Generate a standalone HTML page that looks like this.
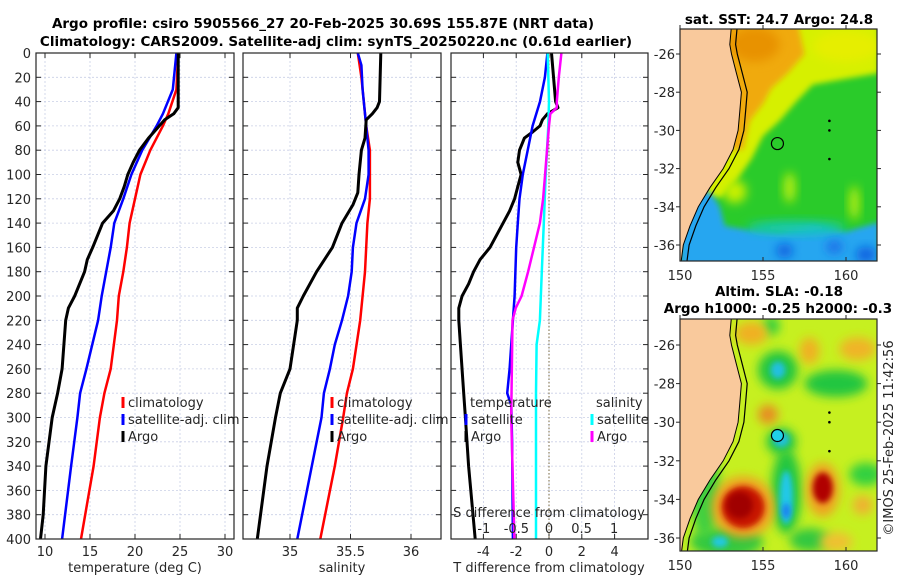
<!DOCTYPE html>
<html><head><meta charset="utf-8">
<style>
html,body{margin:0;padding:0;background:#fff;}
svg{display:block;font-family:"DejaVu Sans","Liberation Sans",sans-serif;}
.tk{font-size:13px;fill:#262626;}
.tt{font-size:13.5px;font-weight:bold;fill:#000;}
</style></head>
<body>
<svg id="fig" width="900" height="580" viewBox="0 0 900 580" xmlns="http://www.w3.org/2000/svg">
<defs>
<filter id="bl" x="-50%" y="-50%" width="200%" height="200%"><feGaussianBlur stdDeviation="5"/></filter>
<filter id="bl2" x="-50%" y="-50%" width="200%" height="200%"><feGaussianBlur stdDeviation="3"/></filter>
<clipPath id="c1"><rect x="680" y="29" width="197" height="232"/></clipPath>
<clipPath id="c2"><rect x="680" y="319" width="197" height="232"/></clipPath>
</defs>
<text class="tt" x="323" y="28" text-anchor="middle">Argo profile: csiro 5905566_27 20-Feb-2025 30.69S 155.87E (NRT data)</text>
<text class="tt" x="336" y="46" text-anchor="middle">Climatology: CARS2009. Satellite-adj clim: synTS_20250220.nc (0.61d earlier)</text>
<text class="tt" x="779" y="24" text-anchor="middle">sat. SST: 24.7 Argo: 24.8</text>
<text class="tt" x="779" y="296" text-anchor="middle">Altim. SLA: -0.18</text>
<text class="tt" x="778" y="313" text-anchor="middle">Argo h1000: -0.25 h2000: -0.3</text>
<text class="tk" transform="translate(893,438) rotate(-90)" text-anchor="middle">©IMOS 25-Feb-2025 11:42:56</text>
<g id="plots"></g>
</svg>
<script>
// ---- data ----
const depthTicks = [0,20,40,60,80,100,120,140,160,180,200,220,240,260,280,300,320,340,360,380,400];
const tempTicks = [10,15,20,25,30];
const salTicks = [35,35.5,36];
const tdiffTicks = [-4,-2,0,2,4];
const sdiffTicks = [-1,-0.5,0,0.5,1];

const tDepthArgo = [0,20,45,50,55,60,70,80,90,100,110,120,130,140,160,170,180,200,210,220,260,280,300,340,380,400];
const tArgo = [24.8,24.8,24.8,24.3,23.3,22.7,21.5,20.5,19.8,19.2,18.8,18.3,17.6,16.4,15.3,14.7,14.4,13.3,12.6,12.3,11.9,11.4,10.8,10.1,9.8,9.5];
const tDepthSat = [0,30,50,60,70,80,100,120,140,160,180,200,220,260,280,300,340,400];
const tSat = [24.6,24.2,23.1,22.4,21.6,20.8,19.6,18.7,17.7,17.3,16.8,16.3,15.9,14.6,13.9,13.6,12.9,11.9];
const tDepthClim = [0,30,50,60,80,100,120,140,160,180,200,220,260,280,300,340,400];
const tClim = [24.8,24.6,23.7,23.1,21.7,20.6,20.0,19.4,19.1,18.7,18.2,18.0,17.3,16.6,16.1,15.4,14.0];

const sDepthArgo = [0,40,45,50,55,70,80,100,115,125,140,160,180,200,210,220,260,280,300,340,400];
const sArgo = [35.75,35.74,35.72,35.68,35.63,35.62,35.59,35.57,35.56,35.52,35.43,35.35,35.22,35.11,35.06,35.06,35.0,34.92,34.88,34.81,34.73];
const sDepthSat = [0,10,30,60,80,100,120,140,160,180,200,220,240,260,280,300,340,400];
const sSat = [35.56,35.59,35.6,35.63,35.65,35.65,35.62,35.55,35.52,35.51,35.48,35.43,35.37,35.33,35.28,35.26,35.18,35.06];
const sDepthClim = [0,20,40,60,80,100,120,140,180,220,260,280,300,340,400];
const sClim = [35.56,35.59,35.61,35.63,35.66,35.66,35.66,35.64,35.62,35.58,35.52,35.47,35.44,35.37,35.25];

const dtDepthArgo = [0,40,45,50,55,60,65,70,80,90,100,110,120,130,140,160,170,180,190,200,210,220,240,280,300,340,400];
const dtArgo = [0.15,0.4,0.55,-0.1,-0.4,-0.55,-1.0,-1.5,-1.8,-1.9,-1.7,-1.9,-2.1,-2.4,-2.8,-3.6,-4.2,-4.6,-4.9,-5.3,-5.5,-5.5,-5.4,-5.2,-5.1,-4.9,-4.5];
const dtDepthSat = [0,20,40,60,80,100,120,140,160,200,220,260,280,290,320,400];
const dtSat = [-0.1,-0.25,-0.55,-1.0,-1.3,-1.6,-1.8,-1.9,-2.0,-2.1,-2.2,-2.4,-2.55,-2.3,-2.25,-2.2];
const dsDepthSat = [0,40,60,100,140,180,220,240,280,400];
const dsSat = [-0.02,0,-0.01,-0.05,-0.08,-0.11,-0.14,-0.19,-0.2,-0.2];
const dsDepthArgo = [0,20,40,45,50,60,80,100,120,140,160,180,200,210,220,300,400];
const dsArgo = [0.19,0.15,0.12,0.12,0.02,0,-0.03,-0.06,-0.09,-0.14,-0.23,-0.32,-0.42,-0.51,-0.56,-0.58,-0.53];

const lonTicks = [150,155,160];
const latTicks = [-26,-28,-30,-32,-34,-36];
const coastLon = [150,153.1,153.0,153.1,153.4,153.7,153.6,153.5,153.2,152.6,151.8,151.1,150.6,150.2,150.05,150];
const coastLat = [-24.5,-24.5,-25.5,-26,-27,-28,-29,-30,-31,-32,-33,-34,-35,-36,-37,-37];
const floatLon = 155.87, floatLat = -30.69;

// ---- scales ----
const NS='http://www.w3.org/2000/svg';
const root=document.getElementById('plots');
function mk(tag,parent){const e=document.createElementNS(NS,tag);(parent||root).appendChild(e);return e;}
const yD=d=>53+d*486/400;
const xT=t=>45+(t-10)*9;
const xS=s=>290+(s-35)*121;
const xTD=v=>549+v*16.4;
const xSD=v=>549+v*65.2;
const mx=lon=>680+(lon-150)*16.6;
const my1=lat=>54+(-26-lat)*19.1;
const my2=lat=>345+(-26-lat)*19.3;

function panel(x0,x1,ticks,sx,name){
  const g=mk('g');
  
  
  depthTicks.forEach(d=>{const l=mk('line',g);l.setAttribute('x1',x0);l.setAttribute('x2',x1);l.setAttribute('y1',yD(d));l.setAttribute('y2',yD(d));l.setAttribute('stroke','#c9cfe6');l.setAttribute('stroke-dasharray','2,2');l.setAttribute('stroke-width','0.8');
    [[x0,x0+5],[x1-5,x1]].forEach(p=>{const t=mk('line',g);t.setAttribute('x1',p[0]);t.setAttribute('x2',p[1]);t.setAttribute('y1',yD(d));t.setAttribute('y2',yD(d));t.setAttribute('stroke','#262626');});});
  ticks.forEach(v=>{const x=sx(v);const l=mk('line',g);l.setAttribute('x1',x);l.setAttribute('x2',x);l.setAttribute('y1',53);l.setAttribute('y2',539);l.setAttribute('stroke','#c9cfe6');l.setAttribute('stroke-dasharray','2,2');l.setAttribute('stroke-width','0.8');
    [[539,534],[53,58]].forEach(p=>{const t=mk('line',g);t.setAttribute('x1',x);t.setAttribute('x2',x);t.setAttribute('y1',p[0]);t.setAttribute('y2',p[1]);t.setAttribute('stroke','#262626');});});
  return g;
}
function frame(x0,x1,y0,y1,name){const r=mk('rect');r.setAttribute('x',x0);r.setAttribute('y',y0);r.setAttribute('width',x1-x0);r.setAttribute('height',y1-y0);r.setAttribute('fill','none');r.setAttribute('stroke','#262626');r.setAttribute('stroke-width','1.2');
  
  }
function line(dep,vals,sx,color,w,name){const p=mk('polyline');p.setAttribute('points',dep.map((d,i)=>sx(vals[i]).toFixed(1)+','+yD(d).toFixed(1)).join(' '));p.setAttribute('fill','none');p.setAttribute('stroke',color);p.setAttribute('stroke-width',w);p.setAttribute('stroke-linejoin','round');
  
  }
function txt(x,y,s,anchor,name,cls){const t=mk('text');t.setAttribute('x',x);t.setAttribute('y',y);t.setAttribute('class',cls||'tk');if(anchor)t.setAttribute('text-anchor',anchor);t.textContent=s;
  
  return t;}
function legend(x,y,color,label,name){const l=mk('line');l.setAttribute('x1',x);l.setAttribute('x2',x);l.setAttribute('y1',y-10);l.setAttribute('y2',y+1);l.setAttribute('stroke',color);l.setAttribute('stroke-width','3');
  
  
  txt(x+5,y,label,null,name);}

// panel 1
panel(36,234,tempTicks,xT,'temperature-panel');
line(tDepthClim,tClim,xT,'#ff0000',2.5,'temperature-climatology-line');
line(tDepthSat,tSat,xT,'#0000ff',2.5,'temperature-satellite-line');
line(tDepthArgo,tArgo,xT,'#000000',3,'temperature-argo-line');
frame(36,234,53,539,'temperature-axes-frame');
depthTicks.forEach(d=>txt(31,yD(d)+5,String(d),'end','depth-tick-label'));
tempTicks.forEach(v=>txt(xT(v),556,String(v),'middle','temperature-tick-label'));
txt(135,572,'temperature (deg C)','middle','temperature-axis-title');
legend(123,407,'#ff0000','climatology','legend-climatology');
legend(123,424,'#0000ff','satellite-adj. clim','legend-satellite-adj-clim');
legend(123,441,'#000000','Argo','legend-argo');

// panel 2
panel(243,441,salTicks,xS,'salinity-panel');
line(sDepthClim,sClim,xS,'#ff0000',2.5,'salinity-climatology-line');
line(sDepthSat,sSat,xS,'#0000ff',2.5,'salinity-satellite-line');
line(sDepthArgo,sArgo,xS,'#000000',3,'salinity-argo-line');
frame(243,441,53,539,'salinity-axes-frame');
salTicks.forEach(v=>txt(xS(v),556,String(v),'middle','salinity-tick-label'));
txt(342,572,'salinity','middle','salinity-axis-title');
legend(332,407,'#ff0000','climatology','legend-s-climatology');
legend(332,424,'#0000ff','satellite-adj. clim','legend-s-satellite-adj-clim');
legend(332,441,'#000000','Argo','legend-s-argo');

// panel 3
panel(451,648,tdiffTicks,xTD,'difference-panel');
(function(){const l=mk('line');l.setAttribute('x1',549);l.setAttribute('x2',549);l.setAttribute('y1',53);l.setAttribute('y2',539);l.setAttribute('stroke','#7a6a40');l.setAttribute('stroke-dasharray','1.5,2');
  
  })();
line(dtDepthArgo,dtArgo,xTD,'#000000',3,'tdiff-argo-line');
line(dtDepthSat,dtSat,xTD,'#0000ff',2.5,'tdiff-satellite-line');
line(dsDepthSat,dsSat,xSD,'#00ffff',2.5,'sdiff-satellite-line');
line(dsDepthArgo,dsArgo,xSD,'#ff00ff',2.5,'sdiff-argo-line');
frame(451,648,53,539,'difference-axes-frame');
tdiffTicks.forEach(v=>txt(xTD(v),556,String(v),'middle','tdiff-tick-label'));
sdiffTicks.forEach(v=>txt(xSD(v),533,String(v),'middle','sdiff-tick-label'));
txt(549,517,'S difference from climatology','middle','sdiff-axis-title');
txt(549,572,'T difference from climatology','middle','tdiff-axis-title');
txt(470,407,'temperature',null,'legend-temperature-header');
txt(596,407,'salinity',null,'legend-salinity-header');
legend(466,424,'#0000ff','satellite','legend-t-satellite');
legend(466,441,'#000000','Argo','legend-t-argo');
legend(592,424,'#00ffff','satellite','legend-s-satellite');
legend(592,441,'#ff00ff','Argo','legend-s-argo');

// ---- maps ----
function poly(g,lons,lats,my,fill,filt){const p=mk('polygon',g);p.setAttribute('points',lons.map((l,i)=>mx(l).toFixed(1)+','+my(lats[i]).toFixed(1)).join(' '));p.setAttribute('fill',fill);if(filt)p.setAttribute('filter',filt);return p;}
function blob(g,lon,lat,rx,ry,my,fill,filt){const e=mk('ellipse',g);e.setAttribute('cx',mx(lon));e.setAttribute('cy',my(lat));e.setAttribute('rx',rx*16.6);e.setAttribute('ry',ry*19.2);e.setAttribute('fill',fill);e.setAttribute('filter',filt||'url(#bl)');return e;}
function coast(g,my){
  poly(g,coastLon,coastLat,my,'#f9c99c');
  const c=mk('polyline',g);c.setAttribute('points',coastLon.slice(1,15).map((l,i)=>mx(l).toFixed(1)+','+my(coastLat[i+1]).toFixed(1)).join(' '));c.setAttribute('fill','none');c.setAttribute('stroke','#000');c.setAttribute('stroke-width','1');
  const s=mk('polyline',g);s.setAttribute('points',coastLon.slice(1,15).map((l,i)=>mx(l+0.35).toFixed(1)+','+my(coastLat[i+1]).toFixed(1)).join(' '));s.setAttribute('fill','none');s.setAttribute('stroke','#000');s.setAttribute('stroke-width','1.2');
  [[159,-29.5],[159,-30],[159,-31.5]].forEach(p=>{const d=mk('circle',g);d.setAttribute('cx',mx(p[0]));d.setAttribute('cy',my(p[1]));d.setAttribute('r',1.3);d.setAttribute('fill','#000');});
}
function mapAxes(y0,y1,my,name){
  frame(680,877,y0,y1,name+'-frame');
  lonTicks.forEach(v=>{txt(mx(v),y1+19,String(v),'middle',name+'-lon-tick-label');
    [[y1,y1-4],[y0,y0-4]].forEach(p=>{const t=mk('line');t.setAttribute('x1',mx(v));t.setAttribute('x2',mx(v));t.setAttribute('y1',p[0]);t.setAttribute('y2',p[1]);t.setAttribute('stroke','#262626');});});
  latTicks.forEach(v=>{txt(675,my(v)+5,String(v),'end',name+'-lat-tick-label');
    [[680,676],[877,881]].forEach(p=>{const t=mk('line');t.setAttribute('x1',p[0]);t.setAttribute('x2',p[1]);t.setAttribute('y1',my(v));t.setAttribute('y2',my(v));t.setAttribute('stroke','#262626');});});
}
// SST map
const g1=mk('g');g1.setAttribute('clip-path','url(#c1)');


(function(){const r=mk('rect',g1);r.setAttribute('x',680);r.setAttribute('y',29);r.setAttribute('width',197);r.setAttribute('height',232);r.setAttribute('fill','#2acb2a');})();
poly(g1,[150,162,162,160,158,157,156,155,154.3,153.5,152.5,151,150],[-24,-24,-27,-27.3,-27.6,-28.5,-29.5,-30.3,-31.5,-32.5,-33.5,-33.5,-33],my1,'#d6f000','url(#bl2)');
poly(g1,[150,157,157.5,156.5,155.5,155,154.2,153.8,152,150],[-24,-24,-26,-27,-27.8,-28.6,-29.5,-31,-31,-30],my1,'#f0aa10','url(#bl2)');
blob(g1,154.5,-25.5,1.5,0.9,my1,'#e89200');
blob(g1,160,-25.6,2,0.8,my1,'#e6ee00');
blob(g1,156.6,-33,0.35,0.8,my1,'#b8ef10');
blob(g1,160.5,-33.8,0.3,0.9,my1,'#b8ef10');
blob(g1,153.3,-33.2,0.7,0.6,my1,'#c8f000');
poly(g1,[150,151.8,152.4,152.7,154,156,158,160,162,162,150],[-33.3,-33.2,-34,-35,-35.2,-35.3,-35,-35.3,-34.8,-38,-38],my1,'#28a6f0','url(#bl2)');
blob(g1,157,-35.1,3,0.35,my1,'#18c8b8');
blob(g1,156.3,-36.3,0.5,0.35,my1,'#1060e0');
blob(g1,159.3,-36.1,0.5,0.35,my1,'#1a70e8');
blob(g1,161.2,-36.5,0.6,0.4,my1,'#1060e0');
coast(g1,my1);
(function(){const c=mk('circle',g1);c.setAttribute('cx',mx(floatLon));c.setAttribute('cy',my1(floatLat));c.setAttribute('r',6);c.setAttribute('fill','none');c.setAttribute('stroke','#000');c.setAttribute('stroke-width','1.2');
  
  })();
mapAxes(29,261,my1,'sst-map');

// SLA map
const g2=mk('g');g2.setAttribute('clip-path','url(#c2)');


(function(){const r=mk('rect',g2);r.setAttribute('x',680);r.setAttribute('y',319);r.setAttribute('width',197);r.setAttribute('height',232);r.setAttribute('fill','#c6f020');})();
[[155.9,-27.3,1.2,1.0,'#22c640'],[159.4,-28,1.9,0.7,'#22c640'],[156.1,-31,0.9,0.7,'#22c640'],[156.4,-33.6,0.9,2.2,'#22c640'],
 [152.8,-36.2,2.2,0.8,'#30c840'],[161.2,-32.7,1,0.6,'#30d040'],[157.8,-36.1,1.2,0.6,'#30c840'],[155.5,-25,0.5,0.5,'#30d040'],[151.5,-33.5,0.9,2.5,'#40d040']]
 .forEach(b=>blob(g2,b[0],b[1],b[2],b[3],my2,b[4]));
[[154.3,-25.4,1.0,0.6,'#f0b020'],[157.8,-26.3,0.6,0.7,'#f0b020'],[160.7,-26.2,1.1,0.6,'#f0b428'],[155.3,-29.6,0.6,0.5,'#e88a20'],
 [161,-34.3,0.6,0.5,'#f0b030'],[159.4,-36.2,1.0,0.5,'#f0c030'],[153.8,-34.4,1.9,1.6,'#f0a020'],[158.6,-33.5,1.0,1.4,'#f0a020']]
 .forEach(b=>blob(g2,b[0],b[1],b[2],b[3],my2,b[4]));
[[153.8,-34.4,1.3,1.1,'#c81800'],[153.6,-34.3,0.8,0.7,'#a00000'],[158.6,-33.4,0.6,0.8,'#b00000'],
 [155.9,-27.3,0.45,0.45,'#20c0e0'],[156.1,-30.9,0.5,0.4,'#20c0d8'],[156.4,-33.9,0.4,1.4,'#20c8e8'],[156.4,-34.6,0.25,0.4,'#1a80f0'],[152.4,-36.2,0.5,0.3,'#20c8e0']]
 .forEach(b=>blob(g2,b[0],b[1],b[2],b[3],my2,b[4],'url(#bl2)'));
coast(g2,my2);
(function(){const c=mk('circle',g2);c.setAttribute('cx',mx(floatLon));c.setAttribute('cy',my2(floatLat));c.setAttribute('r',6);c.setAttribute('fill','#20d0e8');c.setAttribute('stroke','#000');c.setAttribute('stroke-width','1.2');
  
  })();
mapAxes(319,551,my2,'sla-map');
</script>
</body></html>
